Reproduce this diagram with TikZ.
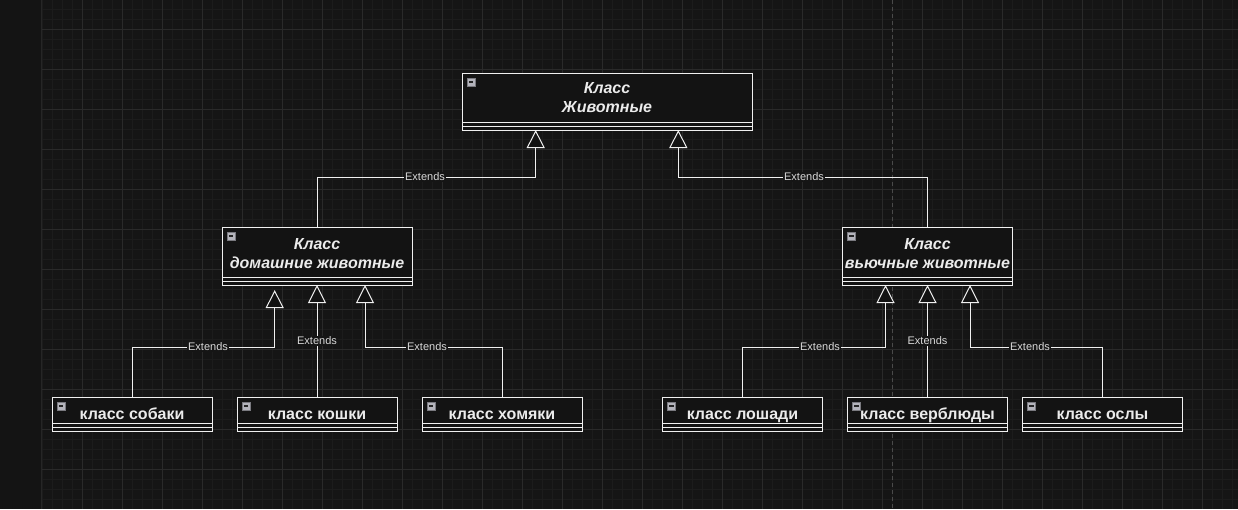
\documentclass[tikz,border=0pt]{standalone}
\usepackage{fontspec}
\setmainfont{Liberation Sans}
\usetikzlibrary{arrows.meta}
\definecolor{bgc}{HTML}{151515}
\definecolor{stripc}{HTML}{141414}
\definecolor{stripline}{HTML}{262626}
\definecolor{minorc}{HTML}{1C1C1C}
\definecolor{majorc}{HTML}{2A2A2A}
\definecolor{pagec}{HTML}{4A4A4A}
\definecolor{boxfill}{HTML}{131313}
\definecolor{linec}{HTML}{F0F0F0}
\definecolor{txtc}{HTML}{EBEBEB}
\definecolor{lblc}{HTML}{D8D8D8}
\definecolor{iconfill}{HTML}{B4B4BC}
\definecolor{iconline}{HTML}{7A7A80}
\tikzset{
  clsbox/.style={draw=linec, fill=boxfill, line width=1pt, inner sep=0pt, outer sep=0pt, rectangle},
  boxline/.style={draw=linec, line width=1pt},
  iconbox/.style={draw=iconline, fill=iconfill, line width=0.6pt, minimum size=8pt, inner sep=0pt,
    path picture={\draw[line width=1.3pt, black!85] ([xshift=1.8pt]path picture bounding box.west) -- ([xshift=-1.8pt]path picture bounding box.east);}},
  ttl/.style={anchor=base, inner sep=0pt, text=txtc, font=\bfseries\itshape\fontsize{16}{19}\selectfont},
  cname/.style={anchor=base, inner sep=0pt, text=txtc, font=\bfseries\fontsize{16}{19}\selectfont},
  conn/.style={draw=linec, line width=1pt, -{Triangle[width=18pt,length=18pt,fill=boxfill]}},
  lbl/.style={fill=bgc, inner sep=1pt, text=lblc, font=\fontsize{11}{13}\selectfont},
  minorline/.style={draw=minorc, line width=1pt},
  majorline/.style={draw=majorc, line width=1pt},
}
\newcommand\umlbox[5]{%
  \node[clsbox, minimum width=#4, minimum height=#5+8, anchor=north west] (#1) at (#2,#3) {};
  \draw[boxline] ([yshift=-#5]#1.north west) -- ([yshift=-#5]#1.north east);
  \draw[boxline] ([yshift=-#5-4]#1.north west) -- ([yshift=-#5-4]#1.north east);
  \node[iconbox] (#1-icon) at ([xshift=9,yshift=-9]#1.north west) {};
}
\begin{document}
\begin{tikzpicture}[x=1pt,y=-1pt]
\useasboundingbox (0,0) rectangle (1238,509);
% background
\fill[bgc] (0,0) rectangle (1238,509);
\fill[stripc] (0,0) rectangle (41,509);
% grid
\foreach \x in {42,52,...,1232} \draw[minorline] (\x,0) -- (\x,509);
\foreach \y in {9,19,...,499} \draw[minorline] (42,\y) -- (1238,\y);
\foreach \x in {82,122,...,1202} \draw[majorline] (\x,0) -- (\x,509);
\foreach \y in {29,69,...,469} \draw[majorline] (42,\y) -- (1238,\y);
\draw[stripline, line width=1.2pt] (41.5,0) -- (41.5,509);
% page break
\draw[pagec, line width=1pt, dash pattern=on 4pt off 3pt] (892.5,0) -- (892.5,509);

% class boxes
\umlbox{animals}{462}{73}{290}{49}
\node[ttl] (animals-t1) at (607,93.7) {Класс};
\node[ttl] (animals-t2) at (607,112.7) {Животные};

\umlbox{domestic}{222}{227}{190}{50}
\node[ttl] (domestic-t1) at (317,249) {Класс};
\node[ttl] (domestic-t2) at (317,268.3) {домашние животные};

\umlbox{pack}{842.5}{227}{170}{50}
\node[ttl] (pack-t1) at (927.5,249) {Класс};
\node[ttl] (pack-t2) at (927.5,268.3) {вьючные животные};

\umlbox{sobaki}{52}{397}{160}{26}
\node[cname] (sobaki-t) at (132,419.3) {класс собаки};
\umlbox{koshki}{237}{397}{160}{26}
\node[cname] (koshki-t) at (317,419.3) {класс кошки};
\umlbox{homyaki}{422}{397}{160}{26}
\node[cname] (homyaki-t) at (502,419.3) {класс хомяки};
\umlbox{loshadi}{662.5}{397}{160}{26}
\node[cname] (loshadi-t) at (742.5,419.3) {класс лошади};
\umlbox{verbl}{847.5}{397}{160}{26}
\node[cname] (verbl-t) at (927.5,419.3) {класс верблюды};
\umlbox{osly}{1022.5}{397}{160}{26}
\node[cname] (osly-t) at (1102.5,419.3) {класс ослы};

% connectors
\draw[conn] (domestic.north) -- ++(0,-50) -| ([xshift=-71.3]animals.south);
\draw[conn] (pack.north) -- ++(0,-50) -| ([xshift=71.3]animals.south);
\draw[conn] (sobaki.north) -- ++(0,-50) -| ([xshift=-42.3,yshift=-5]domestic.south);
\draw[conn] (koshki.north) -- (domestic.south);
\draw[conn] (homyaki.north) -- ++(0,-50) -| ([xshift=48]domestic.south);
\draw[conn] (loshadi.north) -- ++(0,-50) -| ([xshift=-42]pack.south);
\draw[conn] (verbl.north) -- (pack.south);
\draw[conn] (osly.north) -- ++(0,-50) -| ([xshift=42.5]pack.south);

% labels
\node[lbl] (l1) at (425,177) {Extends};
\node[lbl] (l2) at (804,177) {Extends};
\node[lbl] (l3) at (208,347) {Extends};
\node[lbl] (l4) at (317,340.7) {Extends};
\node[lbl] (l5) at (427,347) {Extends};
\node[lbl] (l6) at (820,347) {Extends};
\node[lbl] (l7) at (927.5,340.7) {Extends};
\node[lbl] (l8) at (1030,347) {Extends};
\end{tikzpicture}
\end{document}
